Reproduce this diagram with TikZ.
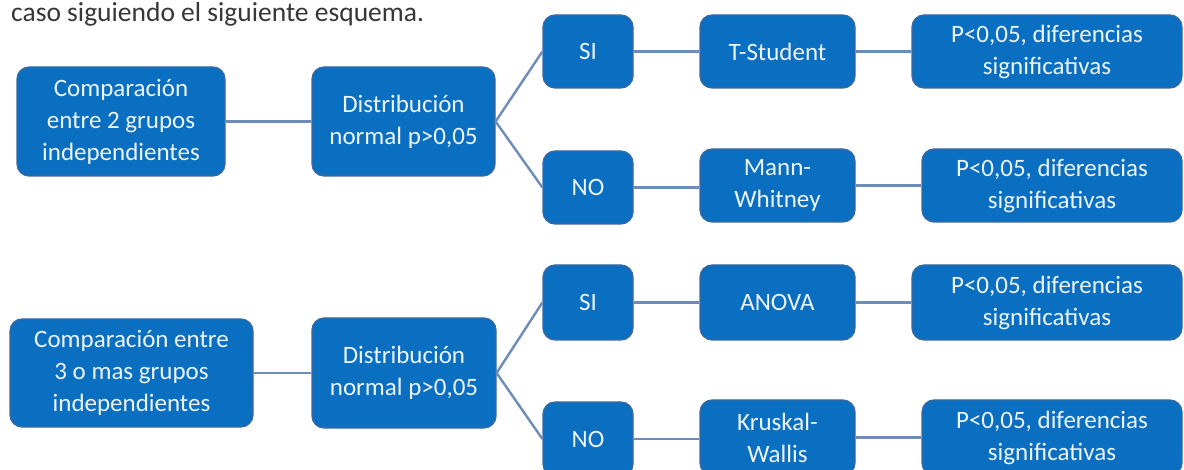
\documentclass[tikz,border=0pt]{standalone}
\usepackage{fontspec}
\setmainfont{Carlito}
\definecolor{boxfill}{RGB}{10,110,193}
\definecolor{boxedge}{RGB}{60,105,160}
\definecolor{linkcol}{RGB}{110,140,186}
\definecolor{boxtext}{RGB}{236,244,252}
\definecolor{titlecol}{RGB}{55,55,55}
\begin{document}
\begin{tikzpicture}[x=1pt,y=-1pt,
  box/.style={draw=boxedge,line width=1.2pt,fill=boxfill,rounded corners=12pt,
    text=boxtext,align=center,inner sep=0pt,
    font=\fontsize{25}{32}\selectfont},
  link/.style={draw=linkcol,line width=2.4pt}]
\useasboundingbox (0,0) rectangle (1184,470);
\clip (0,0) rectangle (1184,470);
\fill[white] (0,0) rectangle (1184,470);
\node[anchor=base west,text=titlecol,inner sep=0pt,font=\fontsize{27.5}{34}\selectfont] (title) at (11,22) {caso siguiendo el siguiente esquema.};
% top group
\node[box,minimum width=208pt,minimum height=109pt] (a1) at (121,121.5) {Comparación\\entre 2 grupos\\independientes};
\node[box,minimum width=183pt,minimum height=109pt] (b1) at (403.5,121.5) {Distribución\\normal p>0,05};
\node[box,minimum width=90pt,minimum height=73pt] (si1) at (588,51.5) {SI};
\node[box,minimum width=90pt,minimum height=73pt] (no1) at (588,187.5) {NO};
\node[box,minimum width=155pt,minimum height=73pt] (ts) at (777.5,51.5) {T-Student};
\node[box,minimum width=155pt,minimum height=73pt] (mw) at (777.5,185.5) {Mann-\\Whitney};
\node[box,minimum width=270pt,minimum height=73pt] (p1) at (1047,51.5) {P<0,05, diferencias\\significativas};
\node[box,minimum width=260pt,minimum height=73pt] (p2) at (1052,185.5) {P<0,05, diferencias\\significativas};
% bottom group
\node[box,minimum width=243pt,minimum height=108pt] (a2) at (131.5,373) {Comparación entre\\3 o mas grupos\\independientes};
\node[box,minimum width=184pt,minimum height=110pt] (b2) at (404,373) {Distribución\\normal p>0,05};
\node[box,minimum width=90pt,minimum height=75pt] (si2) at (588,302.5) {SI};
\node[box,minimum width=90pt,minimum height=74pt] (no2) at (588,439) {NO};
\node[box,minimum width=155pt,minimum height=75pt] (an) at (777.5,302.5) {ANOVA};
\node[box,minimum width=155pt,minimum height=75pt] (kw) at (777.5,437.5) {Kruskal-\\Wallis};
\node[box,minimum width=270pt,minimum height=75pt] (p3) at (1047,302.5) {P<0,05, diferencias\\significativas};
\node[box,minimum width=260pt,minimum height=75pt] (p4) at (1052,437.5) {P<0,05, diferencias\\significativas};
% connectors
\draw[link] (a1.east) -- (b1.west);
\draw[link] (b1.east) -- (si1.west);
\draw[link] (b1.east) -- (no1.west);
\draw[link] (si1.east) -- (ts.west);
\draw[link] (no1.east) -- (no1.east -| mw.west);
\draw[link] (ts.east) -- (p1.west);
\draw[link] (mw.east) -- (p2.west);
\draw[link] (a2.east) -- (b2.west);
\draw[link] (b2.east) -- (si2.west);
\draw[link] (b2.east) -- (no2.west);
\draw[link] (si2.east) -- (an.west);
\draw[link] (no2.east) -- (no2.east -| kw.west);
\draw[link] (an.east) -- (p3.west);
\draw[link] (kw.east) -- (p4.west);
\end{tikzpicture}
\end{document}
